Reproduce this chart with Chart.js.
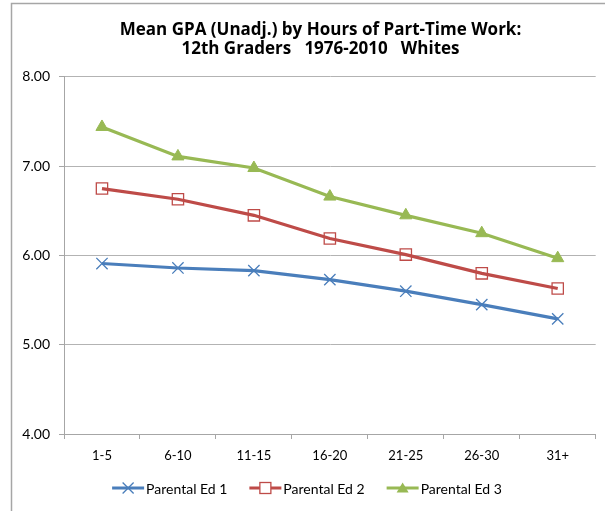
<!DOCTYPE html>
<html>
<head>
<meta charset="utf-8">
<script src="https://cdn.jsdelivr.net/npm/chart.js@4/dist/chart.umd.min.js"></script>
<style>
html,body{margin:0;padding:0;background:#fff;}
#wrap{position:relative;width:605px;height:511px;}
canvas{display:block;}
</style>
</head>
<body>
<div id="wrap"><canvas id="c" width="605" height="511"></canvas></div>
<script>
const categories = ["1-5", "6-10", "11-15", "16-20", "21-25", "26-30", "31+"];
const parentalEd1 = [5.91, 5.86, 5.83, 5.73, 5.60, 5.45, 5.29];
const parentalEd2 = [6.75, 6.63, 6.45, 6.19, 6.01, 5.80, 5.63];
const parentalEd3 = [7.44, 7.11, 6.98, 6.66, 6.45, 6.25, 5.97];
const seriesNames = ["Parental Ed 1", "Parental Ed 2", "Parental Ed 3"];
const titleLines = ["Mean GPA (Unadj.) by Hours of Part-Time Work:", "12th Graders   1976-2010   Whites"];
const yTicks = [4, 5, 6, 7, 8];

const FONT = "Lato, 'Open Sans', sans-serif";
const TITLE_FONT = "'Open Sans', Lato, sans-serif";
const colors = ["#4A7EBB", "#BE4B48", "#98B954"];
const styles = ["crossRot", "rect", "triangle"];

function drawMarker(ctx, style, x, y, color) {
  ctx.save();
  ctx.strokeStyle = color; ctx.fillStyle = color;
  if (style === "crossRot") {
    ctx.lineWidth = 1.3;
    const s = 5.5;
    ctx.beginPath();
    ctx.moveTo(x - s, y - s); ctx.lineTo(x + s, y + s);
    ctx.moveTo(x + s, y - s); ctx.lineTo(x - s, y + s);
    ctx.stroke();
  } else if (style === "rect") {
    ctx.lineWidth = 1.3;
    ctx.fillStyle = "#fff";
    ctx.fillRect(x - 5.5, y - 5.5, 11, 11);
    ctx.strokeRect(x - 5.5, y - 5.5, 11, 11);
  } else {
    ctx.beginPath();
    ctx.moveTo(x, y - 5.5); ctx.lineTo(x + 6, y + 4.5); ctx.lineTo(x - 6, y + 4.5);
    ctx.closePath(); ctx.fill();
  }
  ctx.restore();
}

const framePlugin = {
  id: "frame",
  afterLayout(chart) {
    if (chart.titleBlock) { chart.titleBlock.left = 36; chart.titleBlock.right = 605; }
  },
  beforeDraw(chart) {
    const ctx = chart.ctx;
    ctx.save();
    ctx.strokeStyle = "#a6a6a6"; ctx.lineWidth = 1.5;
    ctx.beginPath();
    ctx.moveTo(11.5, 511); ctx.lineTo(11.5, 3.5); ctx.lineTo(605, 3.5);
    ctx.stroke();
    ctx.restore();
  },
  afterDraw(chart) {
    const ctx = chart.ctx;
    ctx.save();
    ctx.font = "14px " + FONT;
    ctx.textBaseline = "middle";
    const y = 488;
    const lineW = 32, gap1 = 2, gap2 = 22;
    const widths = chart.data.datasets.map(d => ctx.measureText(d.label).width);
    let total = 0;
    widths.forEach((w, i) => { total += lineW + gap1 + w + (i < widths.length - 1 ? gap2 : 0); });
    let x = 307 - total / 2;
    chart.data.datasets.forEach((d, i) => {
      ctx.strokeStyle = d.borderColor; ctx.lineWidth = 3;
      ctx.beginPath(); ctx.moveTo(x, y); ctx.lineTo(x + lineW, y); ctx.stroke();
      drawMarker(ctx, styles[i], x + lineW / 2, y, d.borderColor);
      ctx.fillStyle = "#000";
      ctx.fillText(d.label, x + lineW + gap1, y + 1);
      x += lineW + gap1 + widths[i] + gap2;
    });
    ctx.restore();
  }
};

const datasets = [parentalEd1, parentalEd2, parentalEd3].map((vals, i) => ({
  label: seriesNames[i],
  data: vals,
  borderColor: colors[i],
  backgroundColor: colors[i],
  borderWidth: 3.2,
  pointStyle: styles[i],
  pointRadius: i === 0 ? 8 : (i === 1 ? 8 : 7),
  pointBorderWidth: i === 2 ? 1 : 1.3,
  pointBackgroundColor: i === 1 ? "rgba(255,255,255,0)" : colors[i],
  pointBorderColor: colors[i],
  tension: 0,
  fill: false
}));

new Chart(document.getElementById("c"), {
  type: "line",
  data: { labels: categories, datasets },
  plugins: [framePlugin],
  options: {
    responsive: false,
    animation: false,
    devicePixelRatio: 1,
    layout: { padding: { left: 14, right: 5, top: 10, bottom: 37 } },
    plugins: {
      legend: { display: false },
      tooltip: { enabled: false },
      title: {
        display: true,
        text: titleLines,
        color: "#000",
        font: { family: TITLE_FONT, size: 17, weight: "bold", lineHeight: 1.12 },
        padding: { top: 11, bottom: 17.9 }
      }
    },
    scales: {
      x: {
        offset: true,
        grid: { offset: true, drawOnChartArea: false, drawTicks: true, tickLength: 5, color: "#a6a6a6", tickColor: "#a6a6a6" },
        border: { color: "#a6a6a6", width: 1 },
        ticks: { color: "#000", font: { family: FONT, size: 13 }, padding: 9, maxRotation: 0 },
        afterFit(s) { s.height = 40; }
      },
      y: {
        min: 4, max: 8,
        afterBuildTicks(s) { s.ticks = yTicks.map(v => ({ value: v })); },
        grid: { color: "#b3b3b3", tickLength: 5, tickColor: "#a6a6a6" },
        border: { color: "#a6a6a6", width: 1 },
        ticks: { color: "#000", font: { family: FONT, size: 14 }, padding: 9, callback: v => Number(v).toFixed(2) },
        afterFit(s) { s.width = 50; }
      }
    }
  }
});
</script>
</body>
</html>
